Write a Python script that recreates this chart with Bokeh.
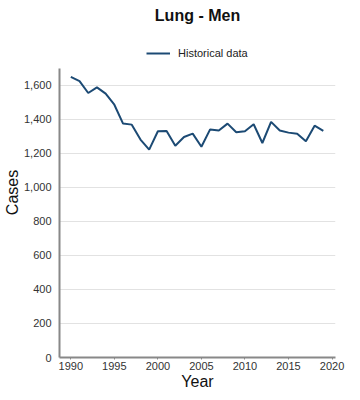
from bokeh.plotting import figure
from bokeh.models import (FixedTicker, NumeralTickFormatter, Range1d, Title,
                          Legend, LegendItem, ColumnDataSource)
from bokeh.embed import file_html
from bokeh.resources import INLINE

years = list(range(1990, 2020))
cases = [1650, 1625, 1555, 1588, 1551, 1486, 1375, 1369, 1281, 1222,
         1330, 1332, 1245, 1296, 1316, 1239, 1341, 1334, 1375, 1324,
         1330, 1371, 1261, 1385, 1334, 1322, 1316, 1271, 1363, 1332]
x_ticks = [1990, 1995, 2000, 2005, 2010, 2015, 2020]
y_ticks = [0, 200, 400, 600, 800, 1000, 1200, 1400, 1600]

FONT = "Liberation Sans"
src = ColumnDataSource(dict(year=years, cases=cases))

p = figure(width=350, height=392, output_backend="svg", toolbar_location=None,
           x_range=Range1d(1988.7, 2020.4), y_range=Range1d(0, 1940),
           min_border_left=40, min_border_right=15, min_border_top=0,
           min_border_bottom=30)
p.outline_line_color = None

r = p.line("year", "cases", source=src, line_color="#1c4a74", line_width=2)

legend = Legend(items=[LegendItem(label="Historical data", renderers=[r])],
                orientation="horizontal", location=(87, 297),
                label_text_font=FONT, label_text_font_size="11px",
                label_text_color="#222222", border_line_color=None,
                background_fill_alpha=0,
                glyph_width=24, glyph_height=14, label_standoff=8,
                padding=2, margin=0, spacing=0)
p.add_layout(legend)

title = Title(text="Lung - Men", align="center", text_font=FONT,
              text_font_size="16px", text_font_style="bold",
              text_color="#111111", standoff=8)
p.add_layout(title, "above")

for ax in (p.xaxis[0], p.yaxis[0]):
    ax.axis_line_color = "#888888"
    ax.axis_line_width = 2
    ax.major_label_text_font = FONT
    ax.major_label_text_font_size = "11px"
    ax.major_label_text_color = "#333333"
    ax.axis_label_text_font = FONT
    ax.axis_label_text_font_size = "16px"
    ax.axis_label_text_font_style = "normal"
    ax.axis_label_text_color = "#111111"
    ax.minor_tick_line_color = None

p.yaxis.bounds = (0, 1700)
p.xaxis.axis_label = "Year"
p.yaxis.axis_label = "Cases"
p.xaxis.ticker = FixedTicker(ticks=x_ticks)
p.yaxis.ticker = FixedTicker(ticks=y_ticks)
p.yaxis.formatter = NumeralTickFormatter(format="0,0")
p.xaxis.major_tick_line_color = "#888888"
p.xaxis.major_tick_in = 0
p.xaxis.major_tick_out = 2
p.yaxis.major_tick_line_color = None
p.xaxis.major_label_standoff = 2
p.yaxis.major_label_standoff = 2
p.xaxis.axis_label_standoff = 0
p.yaxis.axis_label_standoff = 0

p.xgrid.grid_line_color = None
p.ygrid.grid_line_color = "#e2e2e2"
p.ygrid.grid_line_width = 1

open("out.html", "w").write(file_html(p, INLINE))
